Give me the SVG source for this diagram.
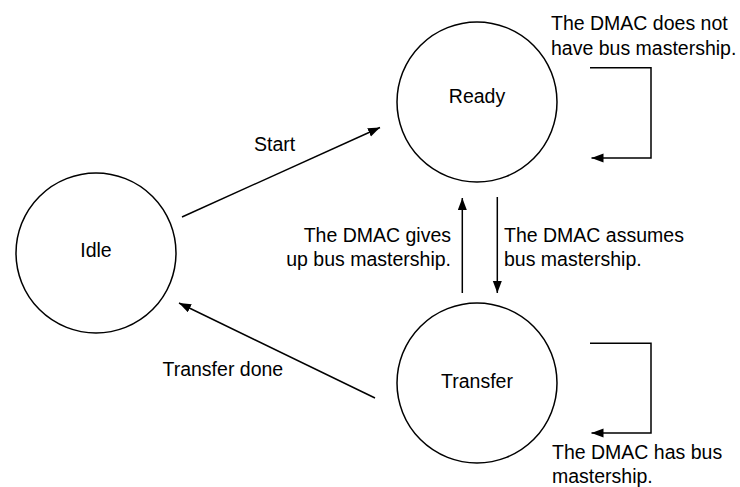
<svg xmlns="http://www.w3.org/2000/svg" width="740" height="487" viewBox="0 0 740 487">
<style>
.node{fill:#fff;stroke:#000;stroke-width:1.5}
.lbl{font-family:"Liberation Sans",Arial,sans-serif;font-size:19.5px;fill:#000}
.c{text-anchor:middle}
.r{text-anchor:end}
.edge{fill:none;stroke:#000;stroke-width:1.5}
</style>
<defs>
<marker id="ah" markerUnits="userSpaceOnUse" markerWidth="13" markerHeight="10" refX="12" refY="4.5" orient="auto">
<path d="M0,0 L12,4.5 L0,9 z" fill="#000"/>
</marker>
</defs>
<rect width="740" height="487" fill="#fff"/>
<g id="idle">
<circle class="node" cx="96" cy="253" r="80"/>
<text class="lbl c" x="96" y="257">Idle</text>
</g>
<g id="ready">
<circle class="node" cx="477" cy="102" r="80"/>
<text class="lbl c" x="477" y="103">Ready</text>
</g>
<g id="transfer">
<circle class="node" cx="477" cy="383" r="80"/>
<text class="lbl c" x="477" y="388">Transfer</text>
</g>
<g id="connectors">
<line class="edge" x1="182" y1="217" x2="380" y2="127.5" marker-end="url(#ah)"/>
<line class="edge" x1="375" y1="398" x2="179" y2="303" marker-end="url(#ah)"/>
<line class="edge" x1="462.3" y1="293" x2="462.3" y2="198" marker-end="url(#ah)"/>
<line class="edge" x1="497.3" y1="197" x2="497.3" y2="293" marker-end="url(#ah)"/>
<polyline class="edge" points="590,67.7 651,67.7 651,158 591.5,158" marker-end="url(#ah)"/>
<polyline class="edge" points="590,343.3 651,343.3 651,433 591.5,433" marker-end="url(#ah)"/>
</g>
<g id="labels">
<text class="lbl" x="254" y="150.5">Start</text>
<text class="lbl" x="162.5" y="376">Transfer done</text>
<text class="lbl r" x="451" y="242">The DMAC gives</text>
<text class="lbl r" x="451" y="265.5">up bus mastership.</text>
<text class="lbl" x="504" y="242">The DMAC assumes</text>
<text class="lbl" x="504" y="265.5">bus mastership.</text>
<text class="lbl" x="551" y="30">The DMAC does not</text>
<text class="lbl" x="551" y="54.5">have bus mastership.</text>
<text class="lbl" x="552" y="458.5">The DMAC has bus</text>
<text class="lbl" x="552" y="483">mastership.</text>
</g>
</svg>
